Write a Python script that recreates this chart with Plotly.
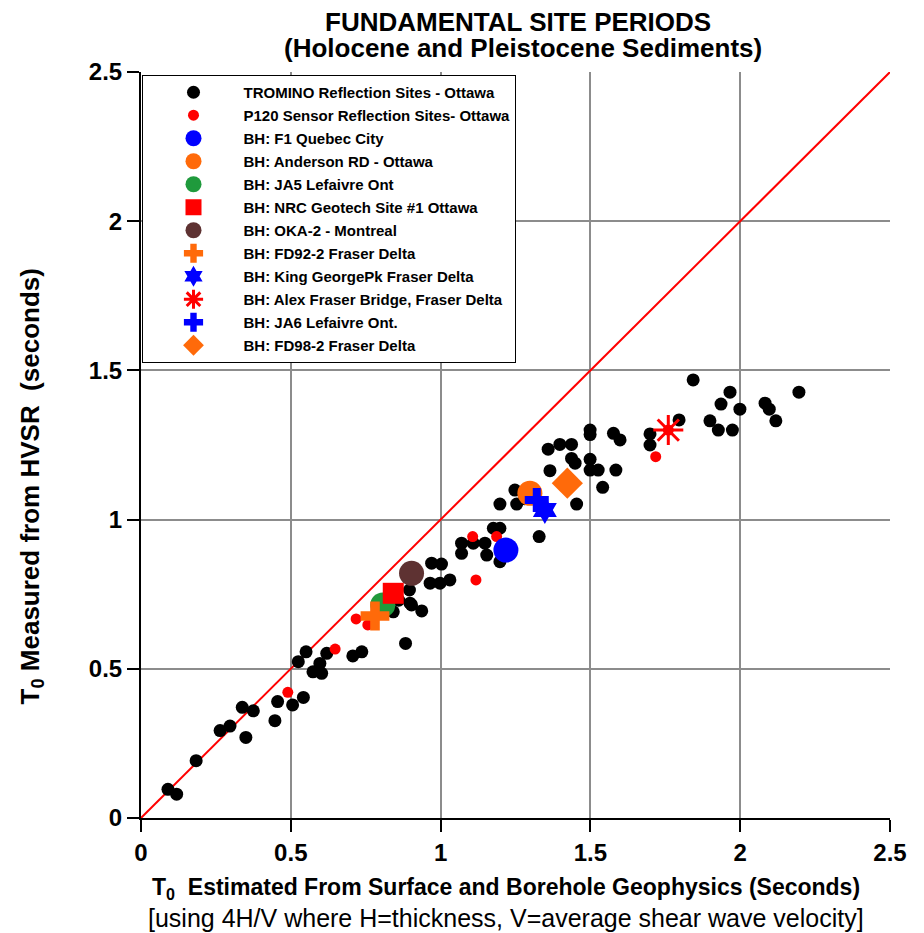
import plotly.graph_objects as go

# TROMINO reflection sites - Ottawa (estimated T0, measured T0)
tromino_x = [0.09, 0.119, 0.184, 0.264, 0.297, 0.338, 0.375, 0.350, 0.447, 0.456, 0.506, 0.542,
             0.525, 0.551, 0.574, 0.603, 0.597, 0.62, 0.707, 0.737, 0.883, 0.842, 0.903, 0.937,
             0.896, 0.898, 0.97, 1.003, 0.965, 0.998, 1.031, 1.07, 1.07, 1.109, 1.148, 1.154,
             1.176, 1.198, 1.198, 1.329, 1.198, 1.254, 1.248, 1.365, 1.454, 1.541, 1.359, 1.398,
             1.437, 1.437, 1.449, 1.499, 1.499, 1.499, 1.499, 1.526, 1.585, 1.577, 1.599, 1.843,
             1.966, 1.936, 1.999, 2.083, 2.097, 2.119, 2.196, 1.899, 1.927, 1.974, 1.796, 1.699,
             1.699, 0.86, 1.28]
tromino_y = [0.096, 0.08, 0.192, 0.293, 0.308, 0.371, 0.359, 0.270, 0.326, 0.39, 0.379, 0.404,
             0.524, 0.557, 0.49, 0.485, 0.518, 0.552, 0.543, 0.557, 0.585, 0.691, 0.714, 0.694,
             0.764, 0.72, 0.854, 0.851, 0.787, 0.787, 0.798, 0.921, 0.887, 0.921, 0.921, 0.881,
             0.971, 0.971, 0.859, 0.943, 1.052, 1.052, 1.099, 1.164, 1.052, 1.108, 1.236, 1.252,
             1.252, 1.205, 1.189, 1.30, 1.285, 1.202, 1.166, 1.166, 1.166, 1.289, 1.267, 1.468,
             1.427, 1.387, 1.37, 1.39, 1.37, 1.331, 1.427, 1.331, 1.30, 1.30, 1.334, 1.287,
             1.25, 0.73, 1.07]

# P120 sensor reflection sites - Ottawa
p120_x = [0.49, 0.648, 0.718, 0.757, 1.107, 1.187, 1.118, 1.718]
p120_y = [0.421, 0.566, 0.667, 0.647, 0.943, 0.943, 0.798, 1.211]

# Borehole sites: name, T0 estimated, T0 measured
bh_names = ["BH: F1 Quebec City", "BH: Anderson RD - Ottawa", "BH: JA5 Lefaivre Ont",
            "BH: NRC Geotech Site #1 Ottawa", "BH: OKA-2 - Montreal", "BH: FD92-2 Fraser Delta",
            "BH: King GeorgePk Fraser Delta", "BH: Alex Fraser Bridge, Fraser Delta",
            "BH: JA6 Lefaivre Ont.", "BH: FD98-2 Fraser Delta"]
bh_x = [1.218, 1.298, 0.807, 0.842, 0.903, 0.781, 1.348, 1.76, 1.321, 1.423]
bh_y = [0.898, 1.088, 0.714, 0.753, 0.82, 0.677, 1.032, 1.30, 1.066, 1.122]

# 1:1 reference line
line_x = [0, 2.5]
line_y = [0, 2.5]

# Axis range, tick values and labels (seconds)
axis_range = [0, 2.5]
tick_vals = [0, 0.5, 1, 1.5, 2, 2.5]
tick_text = ["0", "0.5", "1", "1.5", "2", "2.5"]
minor_step = 0.1

BLUE = "#0000ff"
ORANGE = "#ff6a0a"
GREEN = "#1f9a3c"
RED = "#ff0000"
BROWN = "#5e3232"

bh_styles = [
    dict(symbol="circle", size=25, color=BLUE),
    dict(symbol="circle", size=25, color=ORANGE),
    dict(symbol="circle", size=25, color=GREEN),
    dict(symbol="square", size=21, color=RED),
    dict(symbol="circle", size=25, color=BROWN),
    dict(symbol="cross", size=24, color=ORANGE),
    dict(symbol="hexagram", size=21, color=BLUE),
    dict(symbol="asterisk-open", size=25, color=RED, line=dict(width=3, color=RED)),
    dict(symbol="cross", size=20, color=BLUE),
    dict(symbol="diamond", size=24, color=ORANGE),
]

FONT = "Liberation Sans, Arial, sans-serif"

WIDTH, HEIGHT = 924, 933
MARGIN = dict(l=141, r=34, t=72, b=115)
MAJOR_LEN, MINOR_LEN = 12, 7

fig = go.Figure()

fig.add_trace(go.Scatter(x=line_x, y=line_y, mode="lines", showlegend=False,
                         line=dict(color=RED, width=2), hoverinfo="skip"))

fig.add_trace(go.Scatter(x=tromino_x, y=tromino_y, mode="markers",
                         name="TROMINO Reflection Sites - Ottawa", legendgroup="g0",
                         marker=dict(symbol="circle", size=13, color="black")))
fig.add_trace(go.Scatter(x=p120_x, y=p120_y, mode="markers",
                         name="P120 Sensor Reflection Sites- Ottawa", legendgroup="g1",
                         marker=dict(symbol="circle", size=11, color=RED)))

for i, (name, x, y, st) in enumerate(zip(bh_names, bh_x, bh_y, bh_styles)):
    fig.add_trace(go.Scatter(x=[x], y=[y], mode="markers", name=name,
                             legendgroup=f"g{i + 2}", marker=st))
    if st["symbol"] == "asterisk-open":
        # filled centre of the burst symbol
        fig.add_trace(go.Scatter(x=[x], y=[y], mode="markers", showlegend=False,
                                 legendgroup=f"g{i + 2}",
                                 marker=dict(symbol="circle", size=11, color=RED)))

# Outward tick marks drawn as short line markers just outside the axes
span = axis_range[1] - axis_range[0]
px_per_x = (WIDTH - MARGIN["l"] - MARGIN["r"]) / span
px_per_y = (HEIGHT - MARGIN["t"] - MARGIN["b"]) / span
n_minor = int(round(span / minor_step))
minor_vals = [axis_range[0] + k * minor_step for k in range(n_minor + 1)]
minor_vals = [v for v in minor_vals if all(abs(v - t) > 1e-9 for t in tick_vals)]

for vals, length, width in [(tick_vals, MAJOR_LEN, 2), (minor_vals, MINOR_LEN, 1.5)]:
    # bottom axis
    fig.add_trace(go.Scatter(
        x=vals, y=[axis_range[0] - (length / 2) / px_per_y] * len(vals),
        mode="markers", showlegend=False, hoverinfo="skip", cliponaxis=False,
        marker=dict(symbol="line-ns", size=length, color="black",
                    line=dict(color="black", width=width))))
    # left axis
    fig.add_trace(go.Scatter(
        x=[axis_range[0] - (length / 2) / px_per_x] * len(vals), y=vals,
        mode="markers", showlegend=False, hoverinfo="skip", cliponaxis=False,
        marker=dict(symbol="line-ew", size=length, color="black",
                    line=dict(color="black", width=width))))

axis_common = dict(
    range=axis_range, tickmode="array", tickvals=tick_vals,
    ticktext=[f"<b>{t}</b>" for t in tick_text],
    showgrid=True, gridcolor="#8c8c8c", gridwidth=1.5,
    zeroline=False, showline=True, linecolor="black", linewidth=2,
    ticks="outside", ticklen=MAJOR_LEN, tickwidth=2, tickcolor="black",
    tickfont=dict(family=FONT, size=24, color="black"),
)

fig.update_layout(
    width=WIDTH, height=HEIGHT,
    margin=MARGIN,
    paper_bgcolor="white", plot_bgcolor="white",
    font=dict(family=FONT, color="black"),
    xaxis=dict(**axis_common),
    yaxis=dict(**axis_common),
    legend=dict(x=0.002, y=0.996, xanchor="left", yanchor="top",
                bgcolor="white", bordercolor="black", borderwidth=1,
                font=dict(family=FONT, size=15, color="black", weight="bold"),
                traceorder="grouped", tracegroupgap=0.5, itemwidth=90,
                itemclick=False, itemdoubleclick=False),
    annotations=[
        dict(text="FUNDAMENTAL SITE PERIODS",
             xref="paper", yref="paper", x=0.503, y=1.067, yanchor="middle",
             showarrow=False, font=dict(family=FONT, size=26, color="black", weight="bold")),
        dict(text="(Holocene and Pleistocene Sediments)",
             xref="paper", yref="paper", x=0.51, y=1.032, yanchor="middle",
             showarrow=False, font=dict(family=FONT, size=26, color="black", weight="bold")),
        dict(text="T<sub>0</sub>  Estimated From Surface and Borehole Geophysics (Seconds)",
             xref="paper", yref="paper", x=0.487, y=-0.094, yanchor="middle",
             showarrow=False, font=dict(family=FONT, size=23, color="black", weight="bold")),
        dict(text="[using 4H/V where H=thickness, V=average shear wave velocity]",
             xref="paper", yref="paper", x=0.487, y=-0.134, yanchor="middle",
             showarrow=False, font=dict(family=FONT, size=25, color="black")),
        dict(text="T<sub>0</sub> Measured from HVSR  (seconds)",
             xref="paper", yref="paper", x=-0.146, y=0.444, xanchor="center", yanchor="middle",
             textangle=-90, showarrow=False,
             font=dict(family=FONT, size=26, color="black", weight="bold")),
    ],
)

fig.write_html("out.html")
